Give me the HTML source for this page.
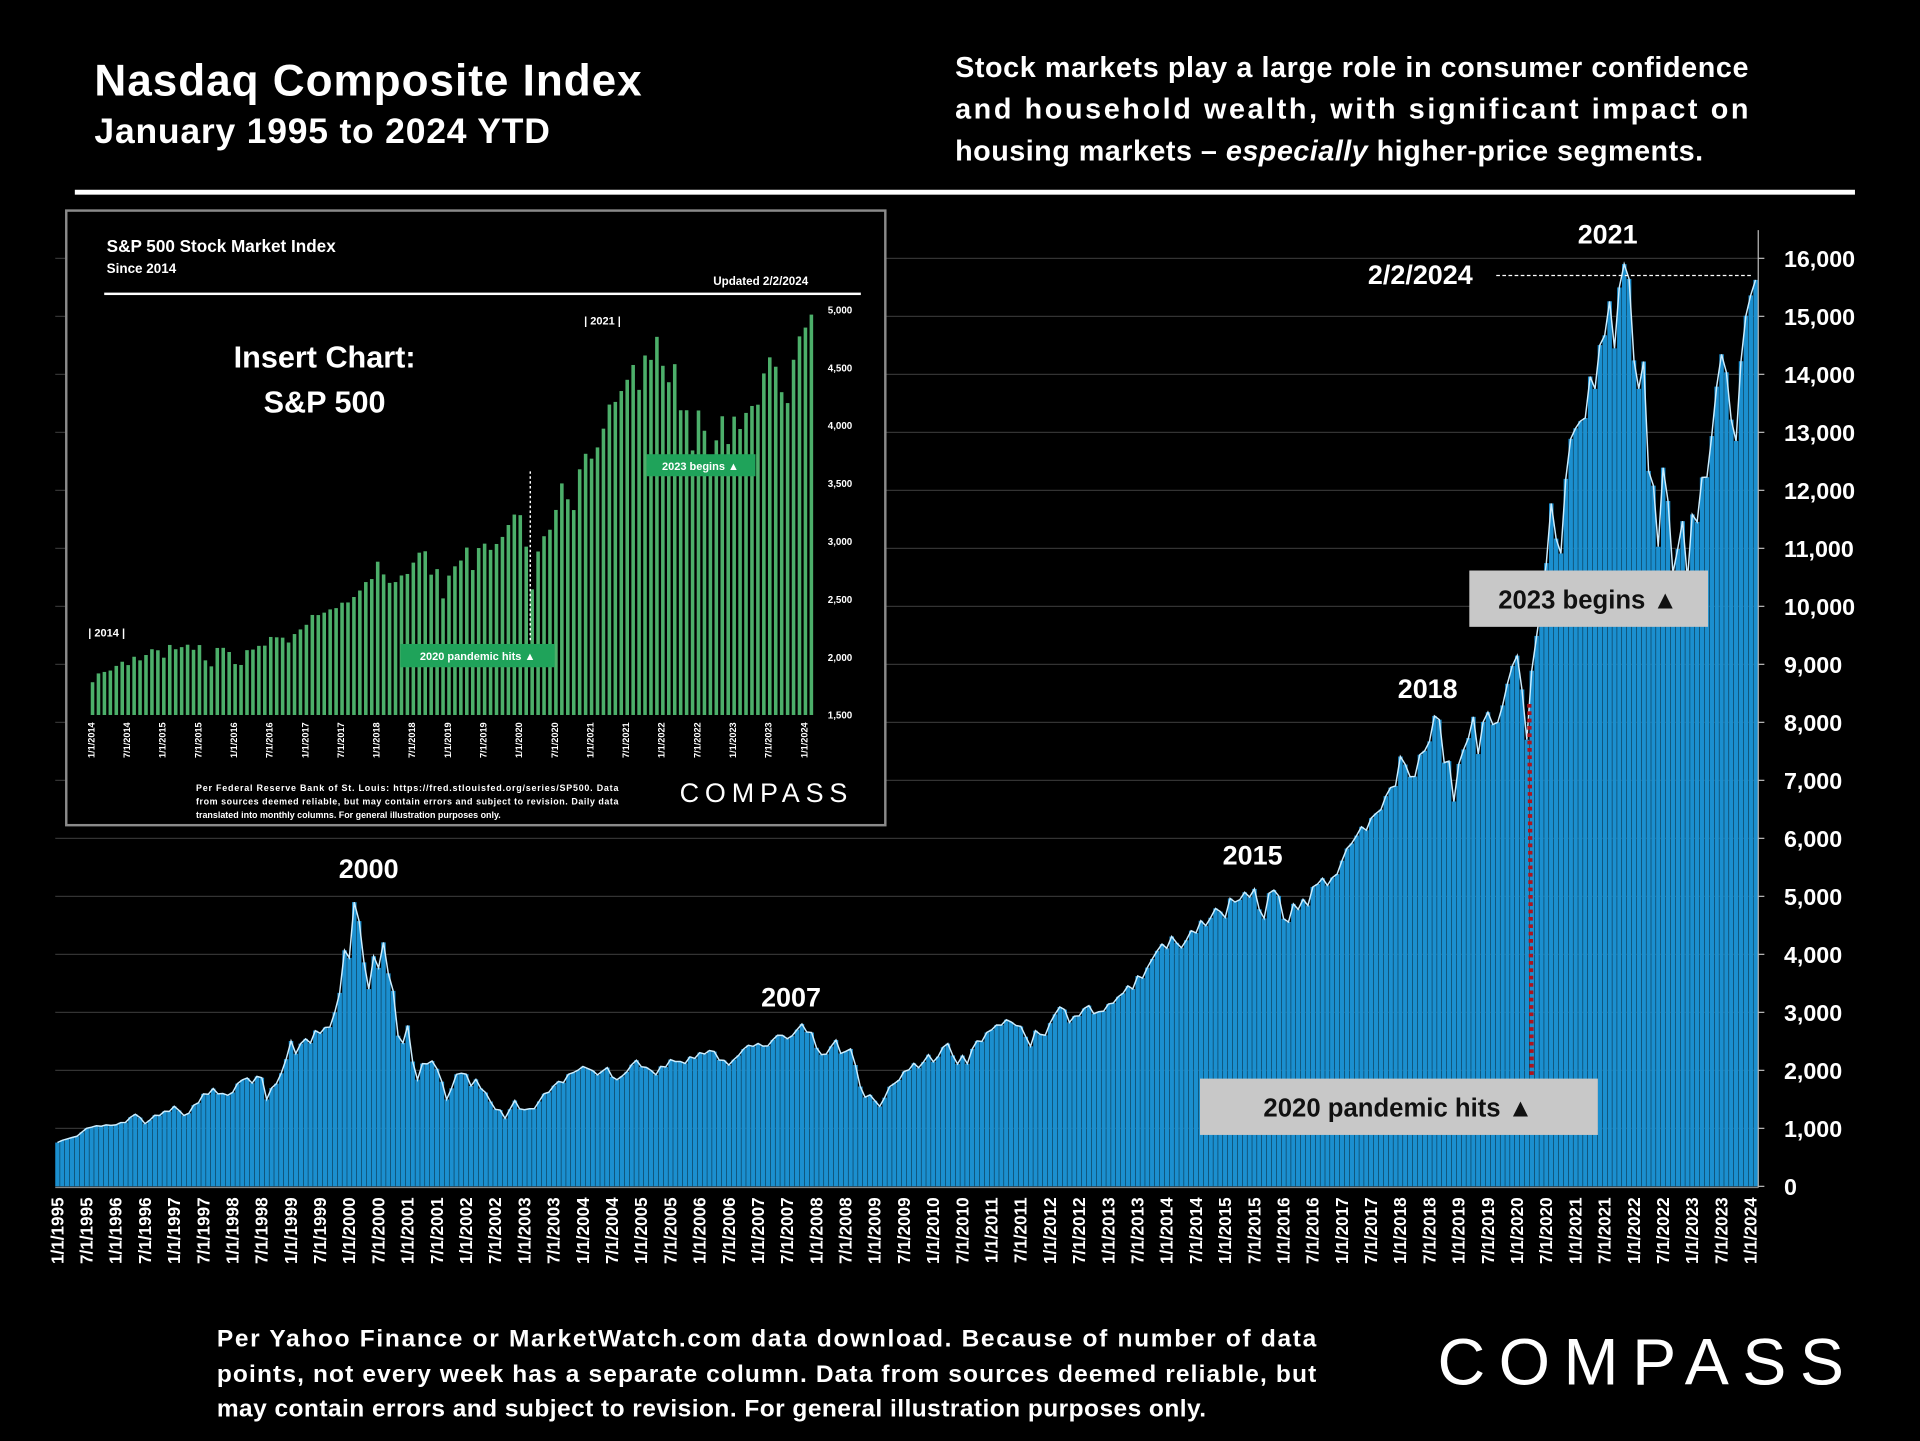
<!DOCTYPE html>
<html><head><meta charset="utf-8"><style>
html,body{margin:0;padding:0;background:#000;}
svg{display:block;font-family:"Liberation Sans",sans-serif;font-weight:bold;}
</style></head><body>
<svg id="s" width="1920" height="1441" viewBox="0 0 1568 1177" xmlns="http://www.w3.org/2000/svg">
<rect x="0" y="0" width="1568" height="1177" fill="#000"/>
<text x="77" y="78" fill="#fff" font-size="36" textLength="447">Nasdaq Composite Index</text>
<text x="77" y="117" fill="#fff" font-size="29" textLength="372">January 1995 to 2024 YTD</text>
<g fill="#fff" font-size="23.5">
<text x="780" y="63" textLength="648">Stock markets play a large role in consumer confidence</text>
<text x="780" y="97" textLength="648">and household wealth, with significant impact on</text>
<text x="780" y="131" textLength="611">housing markets – <tspan font-style="italic">especially</tspan> higher-price segments.</text>
</g>
<rect x="61" y="155" width="1454" height="4" fill="#fff"/>
<g id="grid"></g>
<g id="bars"></g>
<polyline id="line" fill="none" stroke="#cdeeff" stroke-width="1.2"/>
<line x1="1436" y1="188" x2="1436" y2="970" stroke="#bbb" stroke-width="1"/>
<line x1="45" y1="970" x2="1436" y2="970" stroke="#888" stroke-width="1"/>
<g id="yt" fill="#fff" font-size="19"></g>
<g id="xt" fill="#fff" font-size="14"></g>
<g fill="#fff" font-size="22" text-anchor="middle">
<text x="301" y="717">2000</text>
<text x="646" y="822">2007</text>
<text x="1023" y="706">2015</text>
<text x="1166" y="570">2018</text>
<text x="1313" y="199">2021</text>
<text x="1160" y="232">2/2/2024</text>
</g>
<line x1="1222" y1="225" x2="1432" y2="225" stroke="#fff" stroke-width="1" stroke-dasharray="3,2"/>
<line x1="1249" y1="575" x2="1251" y2="881" stroke="#b0141c" stroke-width="3.5" stroke-dasharray="3,3"/>
<rect x="1200" y="466" width="195" height="46" fill="#c8c8c8"/>
<text x="1297" y="497" fill="#111" font-size="21" text-anchor="middle">2023 begins ▲</text>
<rect x="980" y="881" width="325" height="46" fill="#c8c8c8"/>
<text x="1142" y="912" fill="#111" font-size="21" text-anchor="middle">2020 pandemic hits ▲</text>

<g>
<rect x="54" y="172" width="669" height="502" fill="#000" stroke="#8a8a8a" stroke-width="2"/>
<text x="87" y="206" fill="#fff" font-size="14">S&amp;P 500 Stock Market Index</text>
<text x="87" y="223" fill="#fff" font-size="11">Since 2014</text>
<text x="660" y="233" fill="#fff" font-size="9.5" text-anchor="end">Updated 2/2/2024</text>
<rect x="85" y="239" width="618" height="2" fill="#fff"/>
<g id="ibars"></g>
<g id="iyt" fill="#fff" font-size="8"></g>
<g id="ixt" fill="#fff" font-size="7.5"></g>
<text x="265" y="300" fill="#fff" font-size="25" text-anchor="middle">Insert Chart:</text>
<text x="265" y="337" fill="#fff" font-size="25" text-anchor="middle">S&amp;P 500</text>
<text x="72" y="520" fill="#fff" font-size="9">|      2014      |</text>
<text x="477" y="265" fill="#fff" font-size="9">|      2021      |</text>
<line x1="433" y1="385" x2="433" y2="525" stroke="#fff" stroke-width="1.2" stroke-dasharray="2,2"/>
<rect x="528" y="371" width="89" height="18" fill="#1fa35a"/>
<text x="572" y="384" fill="#fff" font-size="9" text-anchor="middle">2023 begins ▲</text>
<rect x="327" y="526" width="126" height="19" fill="#1fa35a"/>
<text x="390" y="539" fill="#fff" font-size="9" text-anchor="middle">2020 pandemic hits ▲</text>
<g fill="#fff" font-size="7.3">
<text x="160" y="646" textLength="345">Per Federal Reserve Bank of St. Louis: https://fred.stlouisfed.org/series/SP500. Data</text>
<text x="160" y="657" textLength="345">from sources deemed reliable, but may contain errors and subject to revision. Daily data</text>
<text x="160" y="668">translated into monthly columns. For general illustration purposes only.</text>
</g>
<text x="555" y="655" fill="#fff" font-size="22" font-weight="normal" letter-spacing="3" textLength="140">COMPASS</text>
</g>

<g fill="#fff" font-size="20">
<text x="177" y="1100" textLength="898">Per Yahoo Finance or MarketWatch.com data download. Because of number of data</text>
<text x="177" y="1129" textLength="898">points, not every week has a separate column. Data from sources deemed reliable, but</text>
<text x="177" y="1157" textLength="808">may contain errors and subject to revision. For general illustration purposes only.</text>
</g>
<text x="1174" y="1131" fill="#fff" font-size="54" font-weight="normal" textLength="332" lengthAdjust="spacing">COMPASS</text>
</svg>
<script>
const nasdaqValues = [
755,793,817,843,864,933,1001,1020,1044,1036,1059,1052,
1059,1100,1101,1191,1243,1185,1081,1141,1227,1222,1293,1291,
1380,1309,1222,1261,1400,1442,1594,1587,1686,1594,1601,1570,
1619,1771,1835,1868,1779,1895,1873,1499,1694,1771,1950,2193,
2506,2288,2461,2543,2471,2686,2638,2739,2746,3000,3336,4069,
3940,4900,4573,3861,3401,3966,3767,4206,3673,3370,2598,2471,
2773,2152,1840,2116,2110,2161,2027,1805,1499,1690,1931,1950,
1934,1731,1845,1688,1616,1463,1328,1315,1172,1330,1479,1336,
1321,1338,1341,1464,1596,1623,1735,1810,1787,1932,1960,2003,
2066,2030,1994,1920,1987,2048,1887,1838,1897,1975,2097,2175,
2062,2052,1999,1922,2068,2057,2185,2152,2152,2120,2233,2205,
2306,2281,2340,2323,2179,2172,2091,2184,2258,2367,2432,2415,
2463,2416,2422,2525,2605,2603,2546,2596,2702,2800,2661,2652,
2389,2271,2279,2413,2523,2293,2326,2368,2092,1721,1536,1577,
1476,1378,1529,1717,1774,1835,1979,2009,2122,2045,2145,2269,
2147,2238,2398,2461,2257,2109,2255,2114,2369,2507,2498,2653,
2700,2782,2781,2873,2835,2774,2756,2579,2415,2684,2620,2605,
2814,2966,3092,3046,2827,2935,2940,3067,3116,2977,3010,3020,
3142,3160,3268,3329,3456,3403,3626,3590,3771,3920,4060,4177,
4104,4308,4199,4115,4243,4408,4370,4580,4493,4631,4792,4736,
4635,4964,4901,4941,5070,4987,5128,4777,4620,5054,5109,5007,
4614,4558,4870,4775,4948,4843,5162,5213,5312,5189,5323,5383,
5615,5825,5912,6048,6199,6140,6348,6429,6496,6728,6874,6903,
7411,7273,7063,7066,7442,7510,7672,8110,8046,7306,7331,6635,
7282,7533,7729,8095,7453,8006,8175,7963,7999,8292,8665,8973,
9150,8567,7700,8890,9490,10059,10745,11775,11168,10912,12198,12888,
13070,13192,13247,13962,13749,14504,14673,15259,14448,15498,15900,15645,
14240,13751,14221,12335,12081,11028,12391,11816,10576,10988,11468,10466,
11585,11456,12222,12227,12935,13788,14346,14035,13219,12851,14226,15011,
15361,15628];
const yTicks = [0,1000,2000,3000,4000,5000,6000,7000,8000,9000,10000,11000,12000,13000,14000,15000,16000];
const startYear = 1995;

const spValues = [
1783,1859,1872,1884,1924,1960,1931,2003,1972,2018,2068,2059,
1995,2105,2068,2086,2107,2063,2104,1972,1920,2079,2080,2044,
1940,1932,2060,2065,2097,2099,2174,2171,2168,2126,2199,2239,
2279,2364,2363,2384,2412,2423,2470,2472,2519,2575,2648,2674,
2824,2714,2641,2648,2705,2718,2816,2902,2914,2712,2760,2507,
2704,2784,2834,2946,2752,2942,2980,2926,2977,3038,3141,3231,
3226,2954,2585,2912,3044,3100,3271,3500,3363,3270,3622,3756,
3714,3811,3973,4181,4204,4298,4395,4523,4308,4605,4567,4766,
4516,4374,4530,4132,4132,3785,4130,3955,3586,3872,4080,3840,
4077,3970,4109,4169,4180,4450,4589,4508,4288,4194,4568,4770,
4846,4958];
const spTicks = [1500,2000,2500,3000,3500,4000,4500,5000];
const spStartYear = 2014;

const NS='http://www.w3.org/2000/svg';
function mk(tag, attrs, parent){const e=document.createElementNS(NS,tag);for(const k in attrs)e.setAttribute(k,attrs[k]);parent.appendChild(e);return e;}

const X0=45, X1=1436, Y0=969, Ytop=211;
const step=(X1-X0)/nasdaqValues.length;
const xs=i=>X0+i*step;
const ys=v=>Y0-(v/16000)*(Y0-Ytop);
const grid=document.getElementById('grid'), bars=document.getElementById('bars'), yt=document.getElementById('yt'), xt=document.getElementById('xt');
yTicks.forEach(t=>{
  const g=mk('line',{x1:X0,x2:X1,y1:ys(t),y2:ys(t),stroke:'#333','stroke-width':1},grid);
  
  
  const tk=mk('line',{x1:X1,x2:X1+5,y1:ys(t),y2:ys(t),stroke:'#bbb','stroke-width':1},yt);
  
  
  const tx=mk('text',{x:1457,y:ys(t)+7},yt);
  tx.textContent=t.toLocaleString('en-US');
  
  
});
let pts=[];
nasdaqValues.forEach((v,i)=>{
  const b=mk('rect',{x:xs(i),y:ys(v),width:step*0.92,height:Y0-ys(v),fill:'#1b8fcf'},bars);
  
  
  pts.push((xs(i)+step*0.45).toFixed(1)+','+ys(v).toFixed(1));
});
document.getElementById('line').setAttribute('points',pts.join(' '));
for(let i=0;i<nasdaqValues.length;i+=6){
  const yr=startYear+Math.floor(i/12), m=(i%12)+1;
  const x=xs(i)+step*0.4+5;
  const t=mk('text',{x:x,y:978,transform:`rotate(-90 ${x} 978)`,'text-anchor':'end'},xt);
  t.textContent=m+'/1/'+yr;
  
  
}

const IX0=74, IX1=666, IY0=584, IYtop=253;
const istep=(IX1-IX0)/spValues.length;
const ixs=i=>IX0+i*istep;
const iys=v=>IY0-((v-1500)/3500)*(IY0-IYtop);
const ib=document.getElementById('ibars'), iyt=document.getElementById('iyt'), ixt=document.getElementById('ixt');
spTicks.forEach(t=>{
  const tx=mk('text',{x:676,y:iys(t)+3},iyt);
  tx.textContent=t.toLocaleString('en-US');
  
  
});
spValues.forEach((v,i)=>{
  const b=mk('rect',{x:ixs(i),y:iys(v),width:istep*0.6,height:IY0-iys(v),fill:'#4caf6a'},ib);
  
  
});
for(let i=0;i<spValues.length;i+=6){
  const yr=spStartYear+Math.floor(i/12), m=(i%12)+1;
  const x=ixs(i)+3;
  const t=mk('text',{x:x,y:590,transform:`rotate(-90 ${x} 590)`,'text-anchor':'end'},ixt);
  t.textContent=m+'/1/'+yr;
  
  
}
</script>
</body></html>
